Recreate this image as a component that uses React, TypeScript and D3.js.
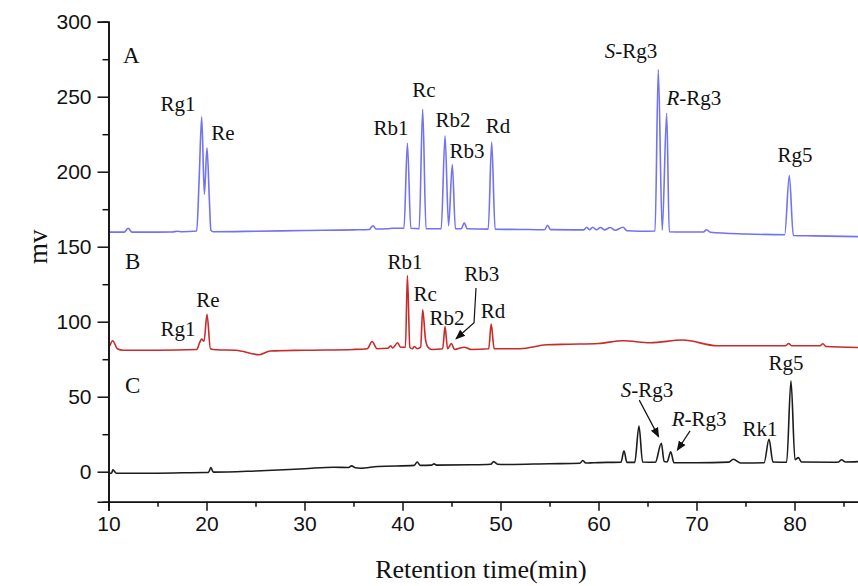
import React, { useEffect, useRef } from 'react';
import { select, scaleLinear, line, curveMonotoneX, axisLeft, axisBottom, range } from 'd3';

// retention time (min), signal (mv)
const traceA: [number, number][] = [
  [10, 159.7], [11.6, 159.7], [12.0, 162.3], [12.4, 159.7], [16.5, 159.8], [17.0, 160.3], [17.5, 160],
  [19.0, 160.5], [19.25, 195], [19.51, 236.5], [19.78, 185], [20.05, 216], [20.3, 180], [20.45, 161], [20.7, 160],
  [25, 160.3], [30, 160.8], [35, 161.2], [36.6, 161.5], [37.0, 164], [37.3, 161.8], [38.5, 162], [39.0, 162.3],
  [40.15, 162.3], [40.5, 219], [40.85, 162.3], [41.7, 162], [42.06, 241.6], [42.4, 162],
  [43.95, 162], [44.34, 224], [44.7, 164], [45.08, 204.7], [45.4, 162],
  [46.0, 162], [46.3, 166], [46.6, 162], [48.75, 161.7], [49.1, 219.8], [49.45, 161.7],
  [52, 161.5], [54.5, 161.3], [54.8, 164.3], [55.1, 161.4], [58.5, 161.2], [58.8, 163], [59.1, 161.3],
  [59.4, 163], [59.8, 161.3], [60.2, 162.8], [60.6, 161.2], [61.2, 162.8], [61.7, 161], [62.5, 163],
  [62.9, 160.6], [64.2, 160.3], [65.77, 160.5], [66.1, 268], [66.5, 161], [66.96, 239], [67.22, 160],
  [68.5, 159.8], [70.7, 159.8], [71.04, 161.3], [71.4, 159.6], [75, 158.5], [79.0, 158],
  [79.47, 197.5], [79.88, 157.5], [82, 157.2], [86.5, 156.7]
];

const traceB: [number, number][] = [
  [10.15, 84], [10.43, 87.3], [10.9, 82], [11.5, 81], [15, 81], [19.0, 81.5], [19.3, 86], [19.5, 88.4],
  [19.75, 87], [20.05, 105], [20.4, 82], [21, 81.3], [23, 81], [25.4, 78], [26.5, 80.5], [30, 81],
  [35, 81.5], [36.4, 82], [36.9, 86.8], [37.4, 82], [38.5, 82.3], [38.8, 84], [39.0, 82.5], [39.5, 86],
  [39.8, 83], [40.3, 83], [40.5, 130.7], [40.75, 83], [41.0, 82], [41.2, 83.5], [41.5, 82],
  [41.85, 83], [42.06, 108], [42.35, 88], [42.6, 83], [43.0, 81.5], [44.1, 82], [44.34, 96.7],
  [44.6, 82], [45.0, 85.5], [45.3, 81.5], [46.3, 83], [47, 81.5], [48.8, 82], [49.05, 98.4], [49.35, 82],
  [52, 82], [54.7, 84.6], [57, 85], [60, 85.5], [62.5, 87.3], [65.3, 86], [68.6, 87.8], [72.1, 84],
  [79.1, 84], [79.4, 85.5], [79.7, 84], [82.6, 84], [82.9, 85.3], [83.2, 83.5], [86.5, 82.8]
];

const traceC: [number, number][] = [
  [10, -1], [10.3, -1], [10.45, 1.2], [10.8, -1], [15, -1], [20, -0.5], [20.2, -0.5], [20.45, 2.7],
  [20.7, -0.3], [25, 0.5], [30, 2], [33, 3], [34.5, 2.8], [34.8, 3.9], [35.2, 2.6], [35.7, 2.3],
  [37.5, 3.5], [41.2, 4.2], [41.5, 6.5], [41.8, 4.2], [43.0, 4.4], [43.2, 5.2], [43.5, 4.4],
  [47, 4.6], [49.0, 5], [49.3, 6.7], [49.7, 5], [50.5, 4.8], [55, 5.3], [58.1, 5.6], [58.4, 7.5],
  [58.7, 5.8], [59.5, 6.0], [61.0, 6.2], [62.3, 6.3], [62.6, 14], [62.9, 6.2], [63.7, 6.2],
  [64.13, 30.5], [64.5, 6.5], [65.8, 6.3], [66.41, 19], [66.7, 6.8], [67.0, 6.5], [67.37, 13.3],
  [67.7, 6], [70, 6], [73.3, 6.4], [73.76, 8.3], [74.5, 5.8], [76.9, 6], [77.4, 21.6], [77.8, 6.5],
  [79.2, 6.3], [79.64, 60.6], [80.05, 8], [80.4, 9.4], [80.7, 6.5], [84, 6.3], [84.5, 6.5], [84.8, 8],
  [85.2, 6.5], [86.5, 6.7]
];

const xTicks = [10, 20, 30, 40, 50, 60, 70, 80];
const yTicks = [0, 50, 100, 150, 200, 250, 300];

// peak names: [label, italic prefix, time, mv (baseline of text)]
const labelsA: [string, string, number, number][] = [
  ['Rg1', '', 17.09, 240.3], ['Re', '', 21.68, 221], ['Rb1', '', 38.83, 224.3], ['Rc', '', 42.19, 249.6],
  ['Rb2', '', 45.15, 229.6], ['Rb3', '', 46.58, 208.9], ['Rd', '', 49.74, 225.6],
  ['-Rg3', 'S', 63.32, 275.7], ['-Rg3', 'R', 69.74, 244.3], ['Rg5', '', 80.05, 206.2]
];
const labelsB: [string, string, number, number][] = [
  ['Rg1', '', 17.09, 90.6], ['Re', '', 20.15, 110], ['Rb1', '', 40.26, 135.4], ['Rc', '', 42.3, 114],
  ['Rb2', '', 44.54, 98], ['Rb3', '', 48.1, 127.4], ['Rd', '', 49.23, 102.7]
];
const labelsC: [string, string, number, number][] = [
  ['-Rg3', 'S', 64.95, 49.9], ['-Rg3', 'R', 70.26, 30.5], ['Rk1', '', 76.48, 23.85], ['Rg5', '', 79.13, 67.9]
];
const panels: [string, number, number][] = [['A', 11.48, 272.3], ['B', 11.68, 135.4], ['C', 11.68, 52.6]];

const arrows: [number, number][][] = [
  [[47.5, 122.5], [47.3, 99.3], [45.46, 88.6]],
  [[64.16, 47.7], [66.14, 23.2]],
  [[69.34, 27.2], [68.04, 14.3]]
];

export default function App() {
  const svgRef = useRef<SVGSVGElement>(null);
  const width = 858, height = 586;

  useEffect(() => {
    const svg = select(svgRef.current);
    svg.selectAll('*').remove();

    const x = scaleLinear().domain([10, 90]).range([108.5, 108.5 + 80 * 9.8]);
    const y = scaleLinear().domain([-20, 300]).range([501.7, 21.7]);

    const serif = '"Liberation Serif", "Times New Roman", serif';
    const sans = '"Liberation Sans", Arial, sans-serif';

    svg.append('defs').append('marker')
      .attr('id', 'head')
      .attr('viewBox', '0 0 10 10')
      .attr('refX', 9).attr('refY', 5)
      .attr('markerWidth', 10).attr('markerHeight', 10)
      .attr('markerUnits', 'userSpaceOnUse')
      .attr('orient', 'auto')
      .append('path').attr('d', 'M0,1 L10,5 L0,9 Z').attr('fill', '#111');

    const gen = line<[number, number]>()
      .x(d => x(d[0]))
      .y(d => y(d[1]))
      .curve(curveMonotoneX);

    const traces: [[number, number][], string][] = [
      [traceA, '#7272f4'], [traceB, '#c92a2a'], [traceC, '#1c1c1c']
    ];
    traces.forEach(([d, c]) => {
      svg.append('path')
        .datum(d)
        .attr('fill', 'none')
        .attr('stroke', c)
        .attr('stroke-width', 1.6)
        .attr('stroke-linejoin', 'round')
        .attr('d', gen);
    });

    // axes
    const yAxis = svg.append('g')
      .attr('transform', `translate(${x(10)},0)`)
      .call(axisLeft(y).tickValues(yTicks).tickSize(11).tickPadding(6));
    svg.append('g')
      .attr('transform', `translate(${x(10)},0)`)
      .call(axisLeft(y).tickValues(range(25, 300, 50)).tickSize(6).tickFormat(() => ''));
    const xAxis = svg.append('g')
      .attr('transform', `translate(0,${y(-20)})`)
      .call(axisBottom(x).tickValues(xTicks).tickSize(9).tickPadding(5));
    svg.append('g')
      .attr('transform', `translate(0,${y(-20)})`)
      .call(axisBottom(x).tickValues(range(15, 90, 10)).tickSize(5).tickFormat(() => ''));

    svg.selectAll('.domain').attr('stroke', '#111').attr('stroke-width', 1.6);
    svg.selectAll('.tick line').attr('stroke', '#111').attr('stroke-width', 1.5);
    yAxis.selectAll('text').attr('font-family', sans).attr('font-size', 21).attr('fill', '#111');
    xAxis.selectAll('text').attr('font-family', sans).attr('font-size', 21).attr('fill', '#111');

    // axis titles
    svg.append('text')
      .attr('transform', `translate(47,${y(150)}) rotate(-90)`)
      .attr('text-anchor', 'middle')
      .attr('font-family', serif).attr('font-size', 27).attr('fill', '#111')
      .text('mv');
    svg.append('text')
      .attr('x', 481).attr('y', 578)
      .attr('text-anchor', 'middle')
      .attr('font-family', serif).attr('font-size', 26).attr('fill', '#111')
      .text('Retention time(min)');

    // panel letters
    panels.forEach(([t, tx, ty]) => {
      svg.append('text')
        .attr('x', x(tx)).attr('y', y(ty))
        .attr('font-family', serif).attr('font-size', 23).attr('fill', '#111')
        .text(t);
    });

    // peak labels
    [...labelsA, ...labelsB, ...labelsC].forEach(([t, it, tx, ty]) => {
      const txt = svg.append('text')
        .attr('x', x(tx)).attr('y', y(ty))
        .attr('text-anchor', 'middle')
        .attr('font-family', serif).attr('font-size', 21).attr('fill', '#111');
      if (it) txt.append('tspan').attr('font-style', 'italic').text(it);
      txt.append('tspan').text(t);
    });

    // arrows
    arrows.forEach(a => {
      svg.append('path')
        .datum(a)
        .attr('fill', 'none')
        .attr('stroke', '#111')
        .attr('stroke-width', 1.2)
        .attr('marker-end', 'url(#head)')
        .attr('d', line<[number, number]>().x(d => x(d[0])).y(d => y(d[1])));
    });
  }, []);

  return (
    <div className='wrapper'>
      <svg ref={svgRef} width={width} height={height}
        style={{ position: 'absolute', left: 0, top: 0, background: '#fff' }} />
    </div>
  );
}
